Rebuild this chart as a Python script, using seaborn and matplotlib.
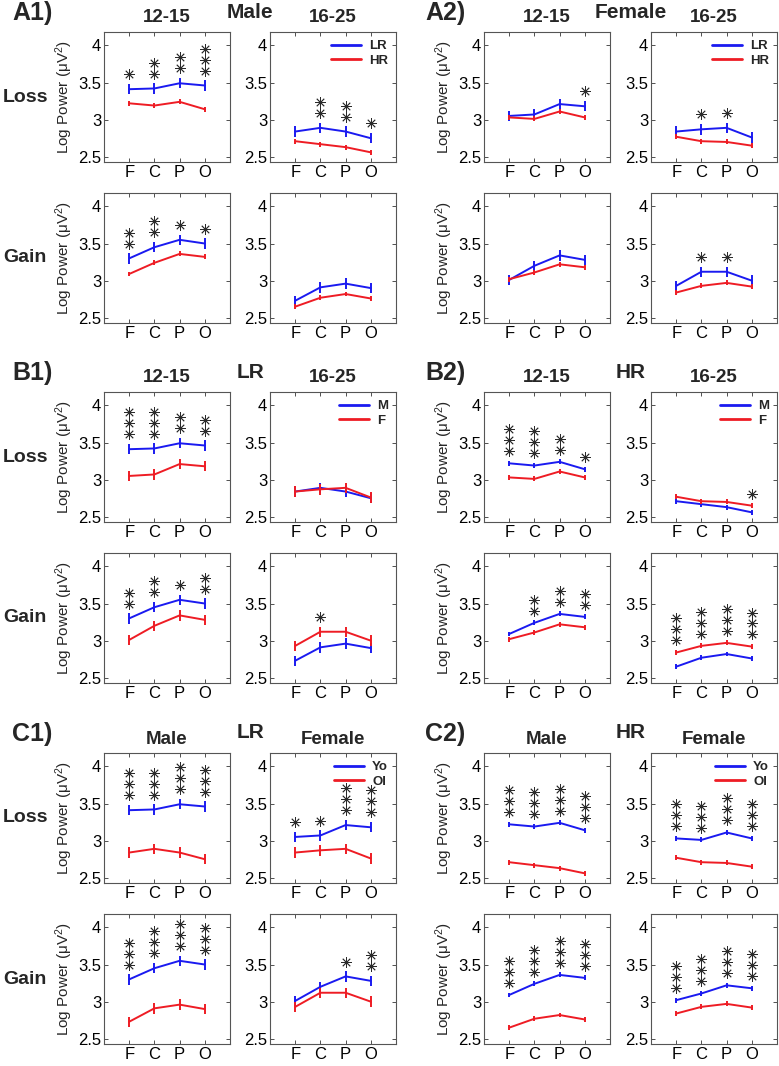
import matplotlib
matplotlib.use("Agg")
import matplotlib.pyplot as plt
import numpy as np
import pandas as pd
import seaborn as sns

sns.set_theme(style="ticks")
plt.rcParams["font.family"] = ["Liberation Sans", "DejaVu Sans"]
plt.rcParams["mathtext.fontset"] = "custom"
plt.rcParams["mathtext.rm"] = "Liberation Sans"
plt.rcParams["mathtext.default"] = "regular"

# ---- data: log power means per region (F, C, P, O) ----
regions = ["F", "C", "P", "O"]

LR_M_young_loss = [3.41, 3.42, 3.49, 3.46]
LR_M_young_gain = [3.30, 3.45, 3.55, 3.50]
LR_M_old_loss = [2.84, 2.89, 2.84, 2.75]
LR_M_old_gain = [2.73, 2.91, 2.96, 2.90]
LR_F_young_loss = [3.05, 3.07, 3.21, 3.18]
LR_F_young_gain = [3.01, 3.20, 3.34, 3.28]
LR_F_old_loss = [2.84, 2.87, 2.89, 2.76]
LR_F_old_gain = [2.93, 3.12, 3.12, 3.00]
HR_M_young_loss = [3.22, 3.19, 3.24, 3.14]
HR_M_young_gain = [3.09, 3.24, 3.36, 3.32]
HR_M_old_loss = [2.71, 2.67, 2.63, 2.56]
HR_M_old_gain = [2.65, 2.77, 2.82, 2.76]
HR_F_young_loss = [3.03, 3.01, 3.11, 3.03]
HR_F_young_gain = [3.02, 3.11, 3.22, 3.18]
HR_F_old_loss = [2.77, 2.71, 2.70, 2.65]
HR_F_old_gain = [2.84, 2.93, 2.97, 2.92]

sem = {"LR": 0.07, "HR": 0.033}

# significance stars per region: [loss-left, loss-right, gain-left, gain-right]
stars_A1 = [[1, 2, 2, 3], [0, 2, 2, 1], [2, 2, 1, 1], [0, 0, 0, 0]]
stars_A2 = [[0, 0, 0, 1], [0, 1, 1, 0], [0, 0, 0, 0], [0, 1, 1, 0]]
stars_B1 = [[3, 3, 2, 2], [0, 0, 0, 0], [2, 2, 1, 2], [0, 1, 0, 0]]
stars_B2 = [[3, 3, 2, 1], [0, 0, 0, 1], [0, 2, 2, 2], [3, 3, 3, 3]]
stars_C1 = [[3, 3, 3, 3], [1, 1, 3, 3], [3, 3, 3, 3], [0, 0, 1, 2]]
stars_C2 = [[3, 3, 3, 3], [3, 3, 3, 3], [3, 3, 3, 3], [3, 3, 3, 3]]

series = {
    ("LR", "M", "young", "loss"): LR_M_young_loss, ("LR", "M", "young", "gain"): LR_M_young_gain,
    ("LR", "M", "old", "loss"): LR_M_old_loss, ("LR", "M", "old", "gain"): LR_M_old_gain,
    ("LR", "F", "young", "loss"): LR_F_young_loss, ("LR", "F", "young", "gain"): LR_F_young_gain,
    ("LR", "F", "old", "loss"): LR_F_old_loss, ("LR", "F", "old", "gain"): LR_F_old_gain,
    ("HR", "M", "young", "loss"): HR_M_young_loss, ("HR", "M", "young", "gain"): HR_M_young_gain,
    ("HR", "M", "old", "loss"): HR_M_old_loss, ("HR", "M", "old", "gain"): HR_M_old_gain,
    ("HR", "F", "young", "loss"): HR_F_young_loss, ("HR", "F", "young", "gain"): HR_F_young_gain,
    ("HR", "F", "old", "loss"): HR_F_old_loss, ("HR", "F", "old", "gain"): HR_F_old_gain,
}

# block definitions: label, middle header, column titles, legend labels,
# per column (blue key, red key), stars
blocks = [
    ("A1)", "Male", ["12-15", "16-25"], ["LR", "HR"],
     [(("LR", "M", "young"), ("HR", "M", "young")), (("LR", "M", "old"), ("HR", "M", "old"))], stars_A1),
    ("A2)", "Female", ["12-15", "16-25"], ["LR", "HR"],
     [(("LR", "F", "young"), ("HR", "F", "young")), (("LR", "F", "old"), ("HR", "F", "old"))], stars_A2),
    ("B1)", "LR", ["12-15", "16-25"], ["M", "F"],
     [(("LR", "M", "young"), ("LR", "F", "young")), (("LR", "M", "old"), ("LR", "F", "old"))], stars_B1),
    ("B2)", "HR", ["12-15", "16-25"], ["M", "F"],
     [(("HR", "M", "young"), ("HR", "F", "young")), (("HR", "M", "old"), ("HR", "F", "old"))], stars_B2),
    ("C1)", "LR", ["Male", "Female"], ["Yo", "Ol"],
     [(("LR", "M", "young"), ("LR", "M", "old")), (("LR", "F", "young"), ("LR", "F", "old"))], stars_C1),
    ("C2)", "HR", ["Male", "Female"], ["Yo", "Ol"],
     [(("HR", "M", "young"), ("HR", "M", "old")), (("HR", "F", "young"), ("HR", "F", "old"))], stars_C2),
]

BLUE = "#1a1af0"
RED = "#ee1c24"
W, H = 779, 1066
fig = plt.figure(figsize=(W / 100, H / 100), dpi=100)


def box(x0, y0, w=126, h=130):
    return [x0 / W, 1 - (y0 + h) / H, w / W, h / H]


col_left = [[104, 270], [484, 651]]
block_top = [32, 392, 753]
row_off = [0, 161]
half_text_x = [12, 425]
mid_x = [250, 631]

for bi, (lab, mid, titles, leg, cols, stars) in enumerate(blocks):
    half = bi % 2
    top = block_top[bi // 2]
    fig.text(half_text_x[half] / W, 1 - (top - 19) / H, lab, fontsize=18,
             fontweight="bold", ha="left", va="center")
    fig.text(mid_x[half] / W, 1 - (top - 20) / H, mid, fontsize=15,
             fontweight="bold", ha="center", va="center")
    for ci in range(2):
        fig.text((col_left[half][ci] + 63) / W, 1 - (top - 14) / H, titles[ci],
                 fontsize=13.5, fontweight="bold", ha="center", va="center")
    if half == 0:
        for ri, rl in enumerate(["Loss", "Gain"]):
            fig.text(25 / W, 1 - (top + row_off[ri] + 65) / H, rl, fontsize=14,
                     fontweight="bold", ha="center", va="center")

    for ri, cond in enumerate(["loss", "gain"]):
        for ci in range(2):
            ax = fig.add_axes(box(col_left[half][ci], top + row_off[ri]))
            kb, kr = cols[ci]
            vb = series[kb + (cond,)]
            vr = series[kr + (cond,)]
            eb, er = sem[kb[0]], sem[kr[0]]
            df = pd.DataFrame({
                "x": list(range(1, 5)) * 2,
                "val": vb + vr,
                "grp": [leg[0]] * 4 + [leg[1]] * 4,
            })
            sns.lineplot(data=df, x="x", y="val", hue="grp",
                         palette=[BLUE, RED], hue_order=leg, ax=ax,
                         lw=1.4, errorbar=None, legend=(ri == 0 and ci == 1))
            xs = np.arange(1, 5)
            ax.errorbar(xs, vb, yerr=eb, fmt="none", ecolor=BLUE, elinewidth=1.4, capsize=0)
            ax.errorbar(xs, vr, yerr=er, fmt="none", ecolor=RED, elinewidth=1.4, capsize=0)
            # significance asterisks stacked above the higher series
            st = stars[ri * 2 + ci]
            for k in range(4):
                base = max(vb[k] + eb, vr[k] + er) + 0.13
                for s in range(st[k]):
                    ax.plot(xs[k], base + s * 0.148, marker=(8, 2, 0), ms=7.5,
                            mew=0.6, color="#2a2a2a", ls="none")
            ax.set_xlim(0, 5)
            ax.set_ylim(2.43, 4.18)
            ax.set_xticks(xs)
            ax.set_xticklabels(regions)
            ax.set_yticks([2.5, 3, 3.5, 4])
            ax.set_yticklabels(["2.5", "3", "3.5", "4"])
            ax.tick_params(direction="in", top=True, right=True, length=3,
                           width=0.6, labelsize=12, pad=2, colors="#333333",
                           labelcolor="black")
            ax.set_xlabel("")
            if ci == 0:
                ax.set_ylabel("Log Power (μV$^2$)", fontsize=11, labelpad=2)
            else:
                ax.set_ylabel("")
            for sp in ax.spines.values():
                sp.set_linewidth(0.8)
                sp.set_color("#555555")
            if ri == 0 and ci == 1:
                lg = ax.legend(loc="upper right", frameon=False,
                               prop={"weight": "bold", "size": 9.5},
                               handlelength=2.3, handletextpad=0.6,
                               labelspacing=0.2, borderaxespad=0.2)
                for h in lg.get_lines():
                    h.set_linewidth(2)

fig.savefig("out.png", dpi=100)
